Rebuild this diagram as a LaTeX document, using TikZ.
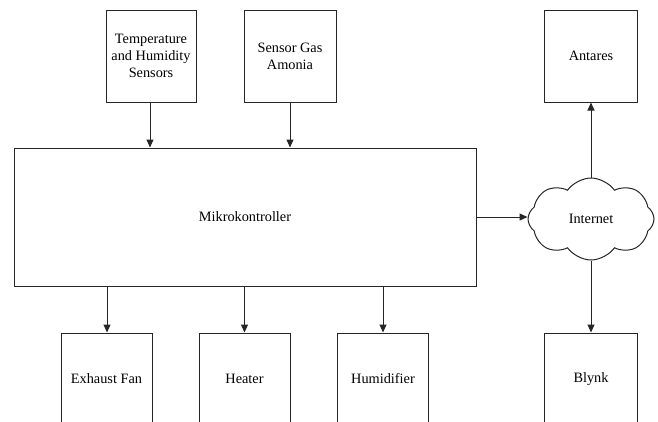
\documentclass[tikz,border=0pt]{standalone}
\usepackage{fontspec}
\setmainfont{LiberationSerif}[Extension=.ttf, UprightFont=*-Regular, BoldFont=*-Bold]
\usepackage{tikz}
\usetikzlibrary{positioning,shapes.symbols,arrows.meta}

\begin{document}
\begin{tikzpicture}[x=1pt, y=-1pt, every node/.style={font=\rmfamily\fontsize{14.3}{17}\selectfont}]
    \tikzset{blk/.style={rectangle, draw=black!85, line width=1pt, inner sep=2pt, align=center, minimum width=91pt, minimum height=92pt},
             lnk/.style={draw=black!85, line width=1pt, -{Triangle[length=8pt, width=7pt]}}}
    \useasboundingbox (0,0) rectangle (658,421);
    \node[blk, minimum width=90pt] (temp) at (151,56) {Temperature\\and Humidity\\Sensors};
    \node[blk, minimum width=92pt] (gas) at (290,56) {Sensor Gas\\Amonia};
    \node[blk, minimum width=462pt, minimum height=138pt] (mcu) at (245,217) {Mikrokontroller};
    \node[blk] (fan) at (106.5,379) {Exhaust Fan};
    \node[blk] (heat) at (244.5,379) {Heater};
    \node[blk] (hum) at (383,379) {Humidifier};
    \node[cloud, draw=black!85, line width=1pt, cloud puffs=8, cloud puff arc=110, cloud ignores aspect, minimum width=126pt, minimum height=82pt] (net) at (591,219) {Internet};
    \node[blk, minimum width=93pt] (ant) at (591,56) {Antares};
    \node[blk, minimum width=93pt] (bly) at (591,379) {Blynk};
    \draw[lnk] (temp.south -| 150,0) -- (mcu.north -| 150,0);
    \draw[lnk] (gas.south) -- (gas.south |- mcu.north);
    \draw[lnk] (mcu.south -| 107,0) -- (fan.north -| 107,0);
    \draw[lnk] (mcu.south -| heat.north) -- (heat.north);
    \draw[lnk] (mcu.south -| hum.north) -- (hum.north);
    \draw[lnk] (mcu.east) -- (net.west |- mcu.east);
    \draw[lnk] (net.north) -- (ant.south);
    \draw[lnk] (net.south) -- (bly.north);
\end{tikzpicture}
\end{document}
